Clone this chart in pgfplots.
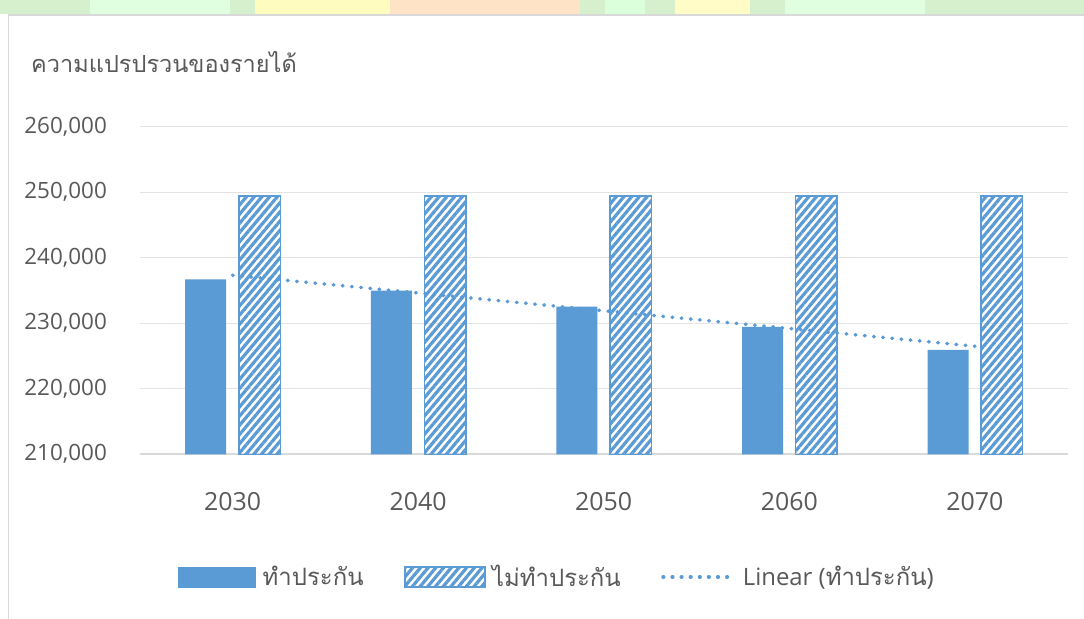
\documentclass[border=0pt]{standalone}
\usepackage{fontspec}
\setmainfont{Open Sans}
\newfontfamily\thaifont[Script=Thai]{Loma}
\usepackage{pgfplots}
\pgfplotsset{compat=1.18}
\usetikzlibrary{patterns.meta}
\definecolor{barblue}{HTML}{5B9BD5}
\definecolor{txt}{HTML}{595959}
\definecolor{gridc}{HTML}{E3E3E3}
\definecolor{axc}{HTML}{D9D9D9}
\begin{document}
\begin{tikzpicture}[x=1bp,y=1bp]
\useasboundingbox (0,0) rectangle (1084,619);
\fill[white] (0,0) rectangle (1084,619);
% decorative strip at top
\fill[white!85!yellow!60!green!40] (0,605) rectangle (1084,619);
\fill[green!12] (90,605) rectangle (230,619);
\fill[yellow!25] (255,605) rectangle (390,619);
\fill[orange!22] (390,605) rectangle (580,619);
\fill[green!14] (605,605) rectangle (645,619);
\fill[yellow!22] (675,605) rectangle (750,619);
\fill[green!12] (785,605) rectangle (925,619);
\draw[axc, line width=1.5bp] (8.3,0) -- (8.3,604) -- (1084,604);
\node[anchor=base west, inner sep=0pt, text=txt, font=\thaifont\fontsize{23.6}{28}\selectfont] at (31,546) {ความแปรปรวนของรายได้};
\begin{axis}[
  at={(139.7bp,164.7bp)}, anchor=south west,
  scale only axis, width=928bp, height=327.5bp,
  xmin=-0.5, xmax=4.5, ymin=210000, ymax=260000,
  ytick={210000,220000,230000,240000,250000,260000},
  xtick={0,1,2,3,4}, xticklabels={2030,2040,2050,2060,2070},
  scaled y ticks=false,
  /pgf/number format/fixed,
  /pgf/number format/precision=0,
  /pgf/number format/1000 sep={,},
  /pgf/number format/assume math mode=true,
  ymajorgrids, grid style={gridc, line width=1.3bp},
  axis x line*=bottom, axis y line*=left,
  y axis line style={draw=none},
  x axis line style={axc, line width=2bp, -},
  major tick length=0pt,
  yticklabel style={font=\fontsize{22.5}{27}\selectfont, text=txt, anchor=east, inner sep=0pt, xshift=-32.7bp},
  xticklabel style={font=\fontsize{25}{30}\selectfont, text=txt, anchor=base, inner sep=0pt, yshift=-56.4bp},
  ybar, bar width=41bp,
  legend columns=3,
  legend style={draw=none, fill=none, inner sep=0pt,
    at={(axis description cs:0.0413,-0.3747)}, anchor=west,
    nodes={inner xsep=6.5bp, inner ysep=0pt, text=txt, font=\fontsize{24}{29}\selectfont},
    /tikz/every even column/.append style={column sep=34bp}},
]
\addplot[fill=barblue, draw=none, bar shift=-26.8bp,
  legend image code/.code={\fill[barblue] (0bp,-10.5bp) rectangle (78bp,10.5bp);}]
  coordinates {(0,236700) (1,235000) (2,232530) (3,229440) (4,225950)};
\addlegendentry{\thaifont ทำประกัน}
\addplot[draw=barblue, line width=1.5bp, bar width=41.5bp, bar shift=27bp,
  pattern={Lines[angle=50, distance=5.9bp, line width=3.2bp]}, pattern color=barblue,
  legend image code/.code={\draw[barblue, line width=1.5bp, pattern={Lines[angle=50, distance=5.9bp, line width=3.2bp]}, pattern color=barblue] (0bp,-10bp) rectangle (80bp,10bp);}]
  coordinates {(0,249450) (1,249450) (2,249450) (3,249450) (4,249450)};
\addlegendentry{\thaifont ไม่ทำประกัน}
\addplot[sharp plot, barblue, line width=3.6bp, line cap=round, dash pattern=on 0.6bp off 8.6bp,
  legend image code/.code={\draw[barblue, line width=3.6bp, line cap=round, dash pattern=on 0.6bp off 8.5bp] (1.5bp,0bp) -- (73bp,0bp);}]
  coordinates {(0,237340) (1,234630) (2,231920) (3,229210) (4,226500)};
\addlegendentry{Linear ({\thaifont ทำประกัน})}
\end{axis}
\end{tikzpicture}
\end{document}
